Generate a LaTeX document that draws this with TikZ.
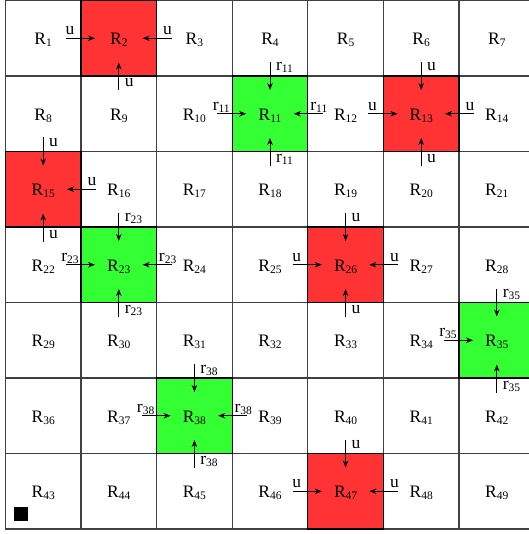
\documentclass[tikz,border=0pt]{standalone}
\usepackage{fontspec}
\setmainfont{Liberation Serif}
\usetikzlibrary{arrows.meta,calc}
\definecolor{redc}{RGB}{255,51,51}
\definecolor{greenc}{RGB}{51,255,51}
\newcommand\rsub[1]{\raisebox{-2pt}{\fontsize{11.5}{12}\selectfont #1}}
\newcommand\arrL[2]{%
  \coordinate (tL#1) at ($(c#1.west)+(-15,0)$);
  \coordinate (hL#1) at ($(c#1.west)+(14,0)$);
  \draw[arr] (tL#1) -- (hL#1);
  \node[lab, anchor=base] (lL#1) at ($(c#1.west)+(-11,-3.5)$) {#2};}
\newcommand\arrR[2]{%
  \coordinate (tR#1) at ($(c#1.east)+(15,0)$);
  \coordinate (hR#1) at ($(c#1.east)+(-14,0)$);
  \draw[arr] (tR#1) -- (hR#1);
  \node[lab, anchor=base] (lR#1) at ($(c#1.east)+(11,-3.5)$) {#2};}
\newcommand\arrT[2]{%
  \coordinate (tT#1) at ($(c#1.north)+(0,-14)$);
  \coordinate (hT#1) at ($(c#1.north)+(0,14)$);
  \draw[arr] (tT#1) -- (hT#1);
  \node[lab, anchor=base west] (lT#1) at ($(c#1.north)+(6,-5)$) {#2};}
\newcommand\arrB[2]{%
  \coordinate (tB#1) at ($(c#1.south)+(0,14.5)$);
  \coordinate (hB#1) at ($(c#1.south)+(0,-13.5)$);
  \draw[arr] (tB#1) -- (hB#1);
  \node[lab, anchor=base west] (lB#1) at ($(c#1.south)+(6,11)$) {#2};}
\begin{document}
\begin{tikzpicture}[x=1pt,y=-1pt,
  font=\fontsize{17.5}{20}\selectfont,
  cell/.style={draw=black!75, line width=1.1pt, fill=white,
    minimum width=75.6pt, minimum height=75.5pt, inner sep=0pt, outer sep=0pt,
    text height=12.6pt, text depth=0pt, anchor=center},
  redcell/.style={cell, fill=redc, draw=black, line width=1.3pt},
  greencell/.style={cell, fill=greenc, draw=black, line width=1.3pt},
  arr/.style={-{Stealth[length=7pt,width=5.5pt]}, line width=0.9pt},
  lab/.style={inner sep=0pt, outer sep=0pt}]
\useasboundingbox (0,0) rectangle (528,534);
\foreach \n in {1,...,49}{
  \pgfmathtruncatemacro\col{mod(\n-1,7)}
  \pgfmathtruncatemacro\row{(\n-1)/7}
  \node[cell] (c\n) at ({43.2+75.6*\col},{38.25+75.5*\row}) {R\rsub{\n}};
}
\foreach \n in {2,13,15,26,47}{
  \pgfmathtruncatemacro\col{mod(\n-1,7)}
  \pgfmathtruncatemacro\row{(\n-1)/7}
  \node[redcell] (c\n) at ({43.2+75.6*\col},{38.25+75.5*\row}) {R\rsub{\n}};
}
\foreach \n in {11,23,35,38}{
  \pgfmathtruncatemacro\col{mod(\n-1,7)}
  \pgfmathtruncatemacro\row{(\n-1)/7}
  \node[greencell] (c\n) at ({43.2+75.6*\col},{38.25+75.5*\row}) {R\rsub{\n}};
}
\foreach \n/\dirs in {2/{L,R,B},13/{L,R,T,B},15/{R,T,B},26/{L,R,T,B},47/{L,R,T}}{
  \foreach \d in \dirs {\csname arr\d\endcsname{\n}{u}}
}
\foreach \n/\dirs in {11/{L,R,T,B},23/{L,R,T,B},35/{L,T,B},38/{L,R,T,B}}{
  \foreach \d in \dirs {\csname arr\d\endcsname{\n}{r\rsub{\n}}}
}
\node[fill=black, minimum size=14pt, inner sep=0pt] (sq) at (20.5,514) {};
\end{tikzpicture}
\end{document}
